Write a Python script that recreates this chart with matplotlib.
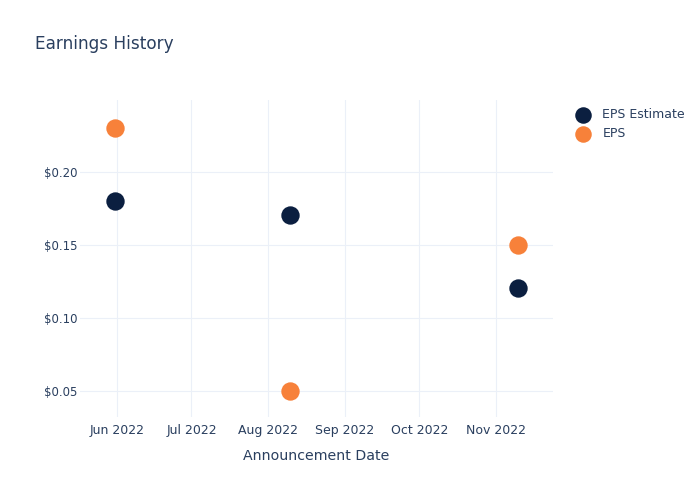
import matplotlib.pyplot as plt
import matplotlib.dates as mdates
import numpy as np
import datetime as dt

dates = [dt.date(2022, 5, 31), dt.date(2022, 8, 10), dt.date(2022, 11, 10)]
eps_estimate = [0.18, 0.17, 0.12]
eps_actual = [0.23, 0.05, 0.15]

navy = '#0b1f40'
orange = '#f7813a'
text_col = '#2a3f5f'
grid_col = '#ebf0f8'

fig = plt.figure(figsize=(7, 5), dpi=100)
ax = fig.add_axes([80 / 700, 1 - 417 / 500, (553 - 80) / 700, (417 - 100) / 500])

ax.scatter(dates, eps_estimate, s=175, color=navy, label='EPS Estimate', zorder=3, linewidths=0)
ax.scatter(dates, eps_actual, s=175, color=orange, label='EPS', zorder=3, linewidths=0)

ax.set_xlim(dt.date(2022, 5, 17), dt.date(2022, 11, 24))
ax.set_ylim(0.032, 0.249)
ax.set_yticks([0.05, 0.10, 0.15, 0.20])
ax.yaxis.set_major_formatter(plt.FuncFormatter(lambda v, p: f'${v:.2f}'))
ax.xaxis.set_major_locator(mdates.MonthLocator())
ax.xaxis.set_major_formatter(mdates.DateFormatter('%b %Y'))

ax.grid(True, color=grid_col, linewidth=0.8)
ax.set_axisbelow(True)
for s in ax.spines.values():
    s.set_visible(False)
ax.tick_params(length=0, labelsize=9, colors=text_col)
ax.tick_params(axis='y', pad=2, labelsize=8.5)
ax.tick_params(axis='x', pad=5)
ax.set_xlabel('Announcement Date', fontsize=10.2, color=text_col, labelpad=9)

fig.text(35 / 700, 1 - 44 / 500, 'Earnings History', fontsize=12.2, color=text_col, va='center')

ax.legend(loc='upper left', bbox_to_anchor=(565 / 700, 1 - 103 / 500), bbox_transform=fig.transFigure,
          frameon=False, fontsize=9, labelcolor=text_col, handletextpad=0.6, labelspacing=0.5,
          markerscale=0.9, borderaxespad=0)

fig.savefig('out.png', dpi=100)
